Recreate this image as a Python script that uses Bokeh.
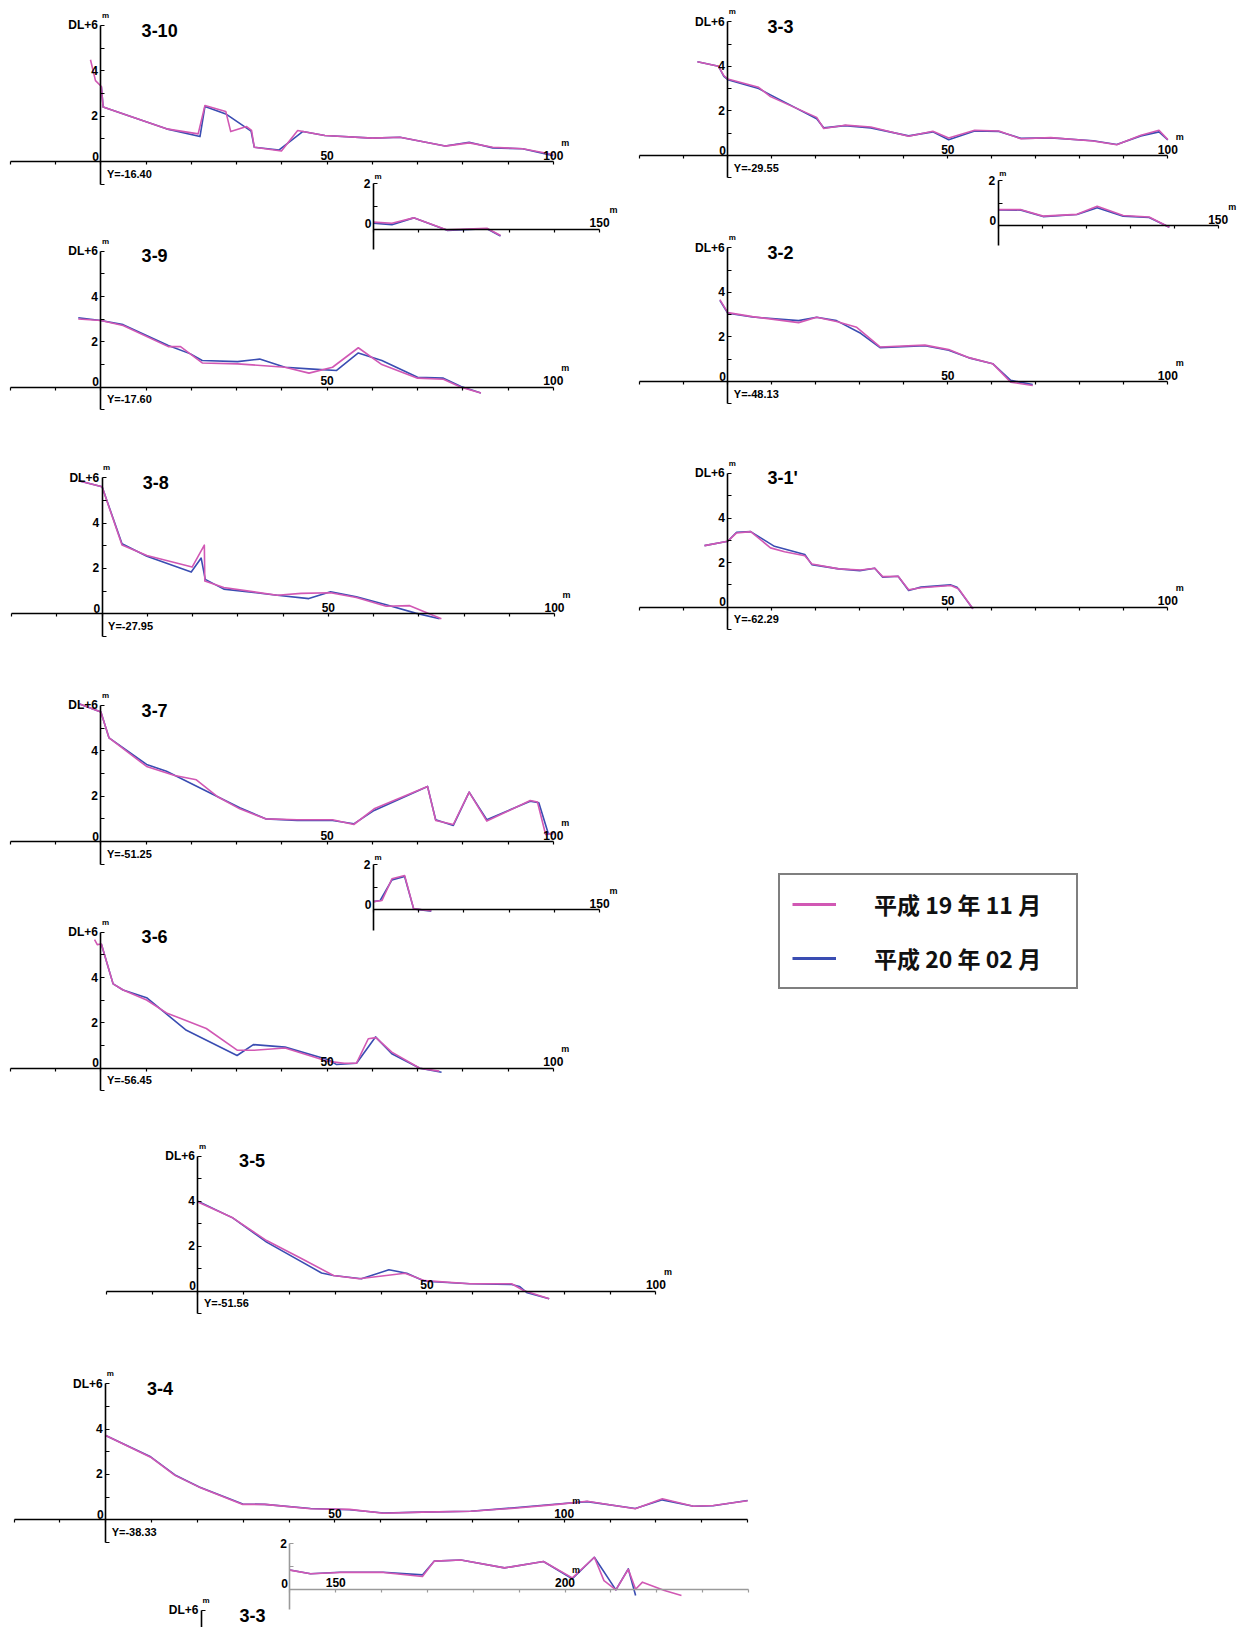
import numpy as np
from bokeh.plotting import figure
from bokeh.models import Range1d, LinearAxis, FixedTicker, Legend, LegendItem
from bokeh.core.properties import value
from bokeh.embed import file_html
from bokeh.resources import INLINE

# ---------------- data (distance m, height DL+6 m) ----------------
P310_X_NOV = [-2.3, -1.2, 0.1, 0.5, 6.6, 14.5, 21.5, 23.0, 27.6, 28.7, 32.2, 33.3, 33.9, 39.9, 43.5, 49.5, 60.0, 66.1, 76.1, 81.4, 86.6, 93.2, 100, 104.1, 108.9, 116.3, 125.1, 128.1]
P310_Y_NOV = [4.49, 3.57, 3.31, 2.40, 1.99, 1.44, 1.22, 2.47, 2.21, 1.32, 1.54, 1.37, 0.63, 0.46, 1.37, 1.15, 1.03, 1.07, 0.68, 0.82, 0.63, 0.56, 0.31, 0.26, 0.50, -0.03, 0.04, -0.28]
P310_X_FEB = [0.1, 0.5, 6.6, 14.5, 21.9, 23.0, 27.6, 33.2, 33.9, 39.4, 44.6, 49.5, 60.0, 66.1, 76.1, 81.4, 86.6, 93.2, 100, 104.1, 108.9, 116.3, 125.1, 128.1]
P310_Y_FEB = [3.30, 2.40, 1.99, 1.44, 1.10, 2.43, 2.10, 1.34, 0.63, 0.51, 1.32, 1.15, 1.03, 1.07, 0.68, 0.85, 0.60, 0.56, 0.26, 0.20, 0.50, -0.05, 0.02, -0.30]

P39_X_NOV = [-5.0, 0, 4.9, 14.9, 17.6, 22.4, 30.2, 40.7, 46.0, 51.2, 56.9, 62.1, 70.0, 75.7, 79.6, 84.0]
P39_Y_NOV = [3.01, 2.94, 2.72, 1.79, 1.79, 1.07, 1.03, 0.88, 0.62, 0.88, 1.74, 1.00, 0.40, 0.35, 0.00, -0.26]
P39_X_FEB = [-5.0, 0, 4.9, 14.9, 19.8, 22.4, 30.2, 35.1, 40.7, 46.0, 52.1, 56.9, 62.1, 70.0, 75.7, 79.6, 84.0]
P39_Y_FEB = [3.06, 2.94, 2.76, 1.84, 1.47, 1.18, 1.13, 1.24, 0.88, 0.81, 0.74, 1.51, 1.18, 0.44, 0.40, 0.03, -0.26]

P38_X_NOV = [-5.2, 0, 4.4, 9.9, 19.9, 22.6, 22.7, 26.9, 38.7, 44.0, 50.5, 56.2, 62.8, 68.0, 75.0]
P38_Y_NOV = [5.87, 5.60, 3.03, 2.57, 2.06, 3.03, 1.45, 1.16, 0.82, 0.90, 0.93, 0.72, 0.33, 0.36, -0.22]
P38_X_FEB = [-5.2, 0, 4.4, 9.9, 19.7, 21.9, 22.8, 26.9, 38.7, 45.7, 50.5, 56.2, 62.8, 69.3, 74.6]
P38_Y_FEB = [5.87, 5.60, 3.09, 2.54, 1.84, 2.46, 1.52, 1.09, 0.82, 0.67, 0.97, 0.75, 0.40, 0.03, -0.22]

P37_X_NOV = [-4.7, 0, 1.8, 10.1, 16.3, 21.1, 25.9, 30.7, 36.4, 43.4, 51.2, 55.9, 60.4, 72.2, 74.0, 77.9, 81.4, 85.3, 94.9, 96.5, 98.3, 100, 101.9, 104.1, 106.9, 108.9, 112.8]
P37_Y_NOV = [6.07, 5.71, 4.57, 3.31, 2.91, 2.72, 1.96, 1.44, 1.00, 0.96, 0.96, 0.75, 1.44, 2.43, 0.93, 0.75, 2.18, 0.90, 1.81, 1.74, 0.31, 0.36, 0.41, 1.37, 1.51, 0.04, -0.04]
P37_X_FEB = [-4.7, 0, 1.8, 10.1, 14.5, 30.7, 36.4, 43.4, 51.2, 55.9, 60.4, 72.2, 74.0, 77.9, 81.4, 85.3, 94.9, 96.8, 98.9, 100, 101.5, 104.1, 106.9, 108.9, 112.8]
P37_Y_FEB = [6.07, 5.71, 4.57, 3.40, 3.10, 1.49, 1.00, 0.93, 0.93, 0.78, 1.37, 2.43, 0.96, 0.71, 2.18, 0.96, 1.78, 1.71, 0.34, 0.36, 0.41, 1.32, 1.47, 0.04, -0.06]

P36_X_NOV = [-1.4, -0.8, 0.1, 2.7, 4.9, 10.1, 14.5, 23.3, 30.2, 33.7, 40.7, 50.3, 53.8, 56.5, 59.1, 60.8, 64.3, 70.5, 74.8]
P36_Y_NOV = [5.67, 5.45, 5.48, 3.72, 3.45, 3.01, 2.44, 1.75, 0.79, 0.79, 0.89, 0.30, 0.22, 0.22, 1.30, 1.35, 0.71, 0.00, -0.13]
P36_X_FEB = [0.1, 2.7, 4.9, 10.1, 18.9, 30.1, 33.7, 40.7, 50.3, 52.1, 56.5, 60.7, 64.3, 70.5, 75.3]
P36_Y_FEB = [5.48, 3.72, 3.45, 3.11, 1.67, 0.56, 1.04, 0.93, 0.37, 0.16, 0.22, 1.38, 0.64, 0.00, -0.18]

P35_X_NOV = [0, 7.6, 15.0, 22.7, 29.6, 35.2, 45.2, 49.5, 59.4, 68.5, 71.1, 76.7]
P35_Y_NOV = [3.96, 3.26, 2.25, 1.44, 0.70, 0.55, 0.80, 0.47, 0.33, 0.33, 0.03, -0.34]
P35_X_FEB = [0, 7.6, 15.0, 27.0, 29.6, 35.7, 41.7, 45.6, 49.5, 59.4, 68.5, 70.2, 71.9, 76.7]
P35_Y_FEB = [4.00, 3.26, 2.18, 0.81, 0.70, 0.55, 0.95, 0.80, 0.44, 0.33, 0.30, 0.21, -0.07, -0.34]

P34_X_NOV = [0, 9.8, 15.1, 20.4, 29.9, 34.7, 44.7, 53.2, 60.6, 69.0, 79.6, 89.1, 98.6, 105.0, 115.5, 121.4, 128.2, 132.5, 140, 144.5, 150.9, 160.4, 168.9, 171.5, 177.3, 186.8, 195.3, 201.6, 206.4, 208.5, 211.1, 213.8, 215.4, 216.9, 221.7, 225.4]
P34_Y_NOV = [3.72, 2.76, 1.96, 1.44, 0.68, 0.68, 0.49, 0.46, 0.29, 0.34, 0.38, 0.51, 0.68, 0.82, 0.49, 0.93, 0.60, 0.63, 0.84, 0.68, 0.74, 0.74, 0.56, 1.24, 1.29, 0.94, 1.22, 0.50, 1.41, 0.38, -0.03, 0.88, 0.00, 0.31, -0.06, -0.28]
P34_X_FEB = [0, 9.8, 15.1, 20.4, 29.9, 34.7, 44.7, 53.2, 60.6, 69.0, 79.6, 89.1, 98.6, 105.0, 115.5, 121.4, 128.2, 132.5, 140, 144.5, 150.9, 160.4, 168.9, 171.5, 177.3, 186.8, 195.3, 201.6, 206.4, 211.1, 213.8, 215.4]
P34_Y_FEB = [3.72, 2.78, 1.98, 1.45, 0.70, 0.68, 0.50, 0.44, 0.30, 0.34, 0.38, 0.53, 0.70, 0.80, 0.50, 0.88, 0.60, 0.62, 0.85, 0.68, 0.75, 0.75, 0.63, 1.24, 1.29, 0.94, 1.22, 0.46, 1.41, -0.03, 0.90, -0.28]

P33_X_NOV = [-6.9, -2.1, -0.9, 0, 7.0, 9.7, 20.2, 21.8, 26.6, 32.5, 41.1, 46.6, 50.2, 56.1, 61.6, 66.6, 73.4, 83.0, 88.4, 93.9, 98.0, 100, 105.2, 110.2, 117.9, 122.5, 128.4, 134.3, 138.9]
P33_Y_NOV = [4.20, 4.00, 3.58, 3.43, 3.06, 2.64, 1.71, 1.21, 1.36, 1.28, 0.86, 1.09, 0.78, 1.13, 1.10, 0.75, 0.80, 0.65, 0.48, 0.91, 1.13, 0.71, 0.71, 0.42, 0.50, 0.86, 0.45, 0.38, -0.08]
P33_X_FEB = [-6.9, -2.1, -0.9, 0, 7.0, 9.7, 20.2, 21.8, 26.6, 32.5, 41.1, 46.6, 50.2, 56.1, 61.6, 66.6, 73.4, 83.0, 88.4, 93.9, 98.0, 100, 105.2, 110.2, 117.9, 122.5, 128.4, 134.3, 138.9]
P33_Y_FEB = [4.20, 4.00, 3.55, 3.40, 3.00, 2.72, 1.65, 1.24, 1.34, 1.24, 0.88, 1.06, 0.71, 1.10, 1.08, 0.77, 0.79, 0.66, 0.49, 0.88, 1.06, 0.70, 0.69, 0.40, 0.49, 0.80, 0.42, 0.36, -0.08]

P32_X_NOV = [-1.8, 0, 5.6, 16.1, 20.2, 24.7, 29.3, 34.6, 44.8, 50.2, 54.8, 60.2, 64.3, 69.3]
P32_Y_NOV = [3.67, 3.09, 2.91, 2.64, 2.88, 2.69, 2.43, 1.55, 1.63, 1.43, 1.07, 0.80, -0.03, -0.18]
P32_X_FEB = [-1.8, 0, 5.6, 16.1, 20.2, 24.7, 30.2, 34.6, 44.8, 50.2, 54.8, 60.2, 64.3, 69.3]
P32_Y_FEB = [3.64, 3.06, 2.89, 2.73, 2.88, 2.73, 2.16, 1.52, 1.60, 1.40, 1.06, 0.80, 0.05, -0.14]

P31_X_NOV = [-5.3, 0, 2.0, 5.2, 9.7, 12.9, 17.5, 19.1, 25.2, 30.2, 33.4, 35.2, 38.7, 41.1, 43.9, 50.7, 52.5, 55.7]
P31_Y_NOV = [2.76, 2.96, 3.33, 3.39, 2.66, 2.49, 2.31, 1.94, 1.72, 1.67, 1.75, 1.37, 1.39, 0.78, 0.87, 0.97, 0.82, -0.07]
P31_X_FEB = [-5.3, 0, 2.0, 5.2, 10.6, 17.5, 19.1, 25.2, 30.0, 33.4, 35.2, 38.7, 41.1, 43.9, 50.7, 52.1, 55.7]
P31_Y_FEB = [2.76, 2.96, 3.36, 3.39, 2.73, 2.36, 1.91, 1.72, 1.64, 1.75, 1.34, 1.39, 0.75, 0.90, 1.00, 0.90, -0.07]

SERIES_LABELS = ["平成 19 年 11 月", "平成 20 年 02 月"]
PINK = "#d158b4"
BLUE = "#3a4db2"

# ---------------- page layout ----------------
W, H, OFF = 1248, 1627, 0
FONT = "Liberation Sans"

p = figure(width=W, height=H, x_range=Range1d(0, W), y_range=Range1d(H, 0),
           output_backend="svg", toolbar_location=None,
           x_axis_location=None, y_axis_location=None, min_border=0)
p.outline_line_color = None
for g in p.grid:
    g.visible = False
p.background_fill_color = "white"
p.border_fill_color = "white"

XR, YR = {}, {}


def frame(key, ox, oy, sx, sy):
    XR[key] = Range1d((OFF - ox) / sx, (OFF + W - ox) / sx)
    YR[key] = Range1d((oy - OFF - H) / sy, (oy - OFF) / sy)


def text(key, x, y, s, size="12px", align="left", baseline="middle", xo=0, yo=0):
    p.text(x=[x], y=[y], text=[s], x_range_name=key, y_range_name=key,
           text_font=value(FONT), text_font_style="bold", text_font_size=size,
           text_align=align, text_baseline=baseline, x_offset=xo, y_offset=yo,
           text_color="black")


def axes(key, x0, x1, y0, y1, labeled, ylab, color="black", with_x=True):
    if with_x:
        ticks = list(range(x0, x1 + 1, 10))
        xa = LinearAxis(x_range_name=key, y_range_name=key, fixed_location=0, bounds=(x0, x1),
                        ticker=FixedTicker(ticks=ticks),
                        major_label_overrides={t: (str(t) if t in labeled else "") for t in ticks},
                        axis_line_color=color, axis_line_width=1.6,
                        major_tick_line_color=color, major_tick_line_width=1.2,
                        major_tick_in=3, major_tick_out=0, minor_tick_in=0, minor_tick_out=0,
                        major_label_standoff=2, major_label_text_font=FONT,
                        major_label_text_font_style="bold", major_label_text_font_size="12px",
                        major_label_text_color="black")
        p.add_layout(xa, "above")
    yt = list(range(int(np.ceil(y0)), int(y1) + 1))
    ya = LinearAxis(x_range_name=key, y_range_name=key, fixed_location=x0 if x0 > 0 else 0,
                    bounds=(y0, y1), ticker=FixedTicker(ticks=yt),
                    major_label_overrides={t: ylab.get(t, "") for t in yt},
                    axis_line_color=color, axis_line_width=1.6,
                    major_tick_line_color=color, major_tick_line_width=1.2,
                    major_tick_in=4, major_tick_out=0, minor_tick_in=0, minor_tick_out=0,
                    major_label_standoff=3, major_label_text_font=FONT,
                    major_label_text_font_style="bold", major_label_text_font_size="12px",
                    major_label_text_color="black")
    p.add_layout(ya, "left")


def draw(key, xs, ys, lo, hi, color):
    xs = np.asarray(xs, dtype=float)
    ys = np.asarray(ys, dtype=float)
    m = (xs >= lo) & (xs <= hi)
    p.line(xs[m], ys[m], x_range_name=key, y_range_name=key,
           line_color=color, line_width=1.6, line_join="round")


MAIN = [
    dict(key="p310", title="3-10", yname="Y=-16.40", ox=100.4, oy=161.0, sx=4.524, sy=22.67, x1=100,
         data=(P310_X_NOV, P310_Y_NOV, P310_X_FEB, P310_Y_FEB)),
    dict(key="p39", title="3-9", yname="Y=-17.60", ox=100.4, oy=386.7, sx=4.524, sy=22.67, x1=100,
         data=(P39_X_NOV, P39_Y_NOV, P39_X_FEB, P39_Y_FEB)),
    dict(key="p38", title="3-8", yname="Y=-27.95", ox=101.6, oy=613.3, sx=4.524, sy=22.67, x1=100,
         data=(P38_X_NOV, P38_Y_NOV, P38_X_FEB, P38_Y_FEB)),
    dict(key="p37", title="3-7", yname="Y=-51.25", ox=100.4, oy=841.0, sx=4.524, sy=22.67, x1=100,
         data=(P37_X_NOV, P37_Y_NOV, P37_X_FEB, P37_Y_FEB)),
    dict(key="p36", title="3-6", yname="Y=-56.45", ox=100.4, oy=1067.7, sx=4.524, sy=22.67, x1=100,
         data=(P36_X_NOV, P36_Y_NOV, P36_X_FEB, P36_Y_FEB)),
    dict(key="p35", title="3-5", yname="Y=-51.56", ox=197.4, oy=1290.7, sx=4.58, sy=22.5, x1=100,
         data=(P35_X_NOV, P35_Y_NOV, P35_X_FEB, P35_Y_FEB)),
    dict(key="p34", title="3-4", yname="Y=-38.33", ox=105.2, oy=1519.3, sx=4.585, sy=22.67, x1=140,
         data=(P34_X_NOV, P34_Y_NOV, P34_X_FEB, P34_Y_FEB)),
    dict(key="p33", title="3-3", yname="Y=-29.55", ox=727.3, oy=155.0, sx=4.40, sy=22.3, x1=100,
         data=(P33_X_NOV, P33_Y_NOV, P33_X_FEB, P33_Y_FEB)),
    dict(key="p32", title="3-2", yname="Y=-48.13", ox=727.3, oy=381.0, sx=4.40, sy=22.3, x1=100,
         data=(P32_X_NOV, P32_Y_NOV, P32_X_FEB, P32_Y_FEB)),
    dict(key="p31", title="3-1'", yname="Y=-62.29", ox=727.3, oy=606.7, sx=4.40, sy=22.3, x1=100,
         data=(P31_X_NOV, P31_Y_NOV, P31_X_FEB, P31_Y_FEB)),
]

INSETS = [
    dict(key="p310i", of=0, ax=372.9, oy=228.7, x0=100, x1=150, labeled=[150], unit=True, color="black"),
    dict(key="p37i", of=3, ax=372.9, oy=909.3, x0=100, x1=150, labeled=[150], unit=True, color="black"),
    dict(key="p33i", of=7, ax=997.7, oy=225.0, x0=100, x1=150, labeled=[150], unit=True, color="black"),
    dict(key="p34i", of=6, ax=289.4, oy=1588.7, x0=140, x1=240, labeled=[150, 200], unit=False, color="#9a9a9a"),
]

for d in MAIN:
    k = d["key"]
    frame(k, d["ox"], d["oy"], d["sx"], d["sy"])
    axes(k, -20, d["x1"], -1, 6, [50, 100], {2: "2", 4: "4", 6: "DL+6"})
    xn, yn, xf, yf = d["data"]
    draw(k, xf, yf, -50, d["x1"], BLUE)
    draw(k, xn, yn, -50, d["x1"], PINK)
    text(k, 0, 0, "0", align="right", baseline="bottom", xo=-2, yo=-1)
    text(k, 0, 6, "m", size="8px", align="left", baseline="middle", xo=1, yo=-10)
    text(k, 100, 0, "m", size="9px", align="center", baseline="middle", xo=12, yo=-19)
    text(k, 0, 0, d["yname"], size="11px", align="left", baseline="top", xo=6, yo=6)
    text(k, 9, 5.8, d["title"], size="18px", align="left", baseline="middle")

for d in INSETS:
    m = MAIN[d["of"]]
    k = d["key"]
    sx, sy = m["sx"], m["sy"]
    frame(k, d["ax"] - d["x0"] * sx, d["oy"], sx, sy)
    axes(k, d["x0"], d["x1"], -0.9, 2, d["labeled"], {2: "2"}, color=d["color"])
    xn, yn, xf, yf = m["data"]
    draw(k, xf, yf, d["x0"], 400, BLUE)
    draw(k, xn, yn, d["x0"], 400, PINK)
    text(k, d["x0"], 0, "0", align="right", baseline="bottom", xo=-2, yo=-1)
    if d["unit"]:
        text(k, d["x0"], 2, "m", size="8px", align="left", baseline="middle", xo=1, yo=-7)
        text(k, 150, 0, "m", size="9px", align="center", baseline="middle", xo=14, yo=-19)
    else:
        text(k, 200, 0, "m", size="9px", align="center", baseline="middle", xo=11, yo=-19)

# partially visible next sheet at the bottom of the page (only its top edge is on the page)
frame("pbot", 201.0, 1746.0, 4.58, 22.67)
axes("pbot", -20, 100, 4.8, 6, [], {6: "DL+6"}, with_x=False)
text("pbot", 0, 6, "m", size="8px", align="left", baseline="middle", xo=1, yo=-10)
text("pbot", 8.3, 5.8, "3-3", size="18px", align="left", baseline="middle")

p.extra_x_ranges = XR
p.extra_y_ranges = YR

# legend (proxy renderers hold no drawable points; they only carry the style)
r_nov = p.line(x=[np.nan], y=[np.nan], line_color=PINK, line_width=3)
r_feb = p.line(x=[np.nan], y=[np.nan], line_color=BLUE, line_width=3)
legend = Legend(items=[LegendItem(label=SERIES_LABELS[0], renderers=[r_nov]),
                       LegendItem(label=SERIES_LABELS[1], renderers=[r_feb])],
                location=(778, H - 989), orientation="vertical",
                padding=12, spacing=20, margin=0,
                glyph_width=44, glyph_height=24, label_height=24, label_width=190,
                label_standoff=38,
                label_text_font="Noto Sans CJK JP", label_text_font_style="bold",
                label_text_font_size="23px", label_text_color="#111111",
                border_line_color="black", border_line_width=2,
                background_fill_color="white", background_fill_alpha=1)
p.add_layout(legend)

open("out.html", "w").write(file_html(p, INLINE))
